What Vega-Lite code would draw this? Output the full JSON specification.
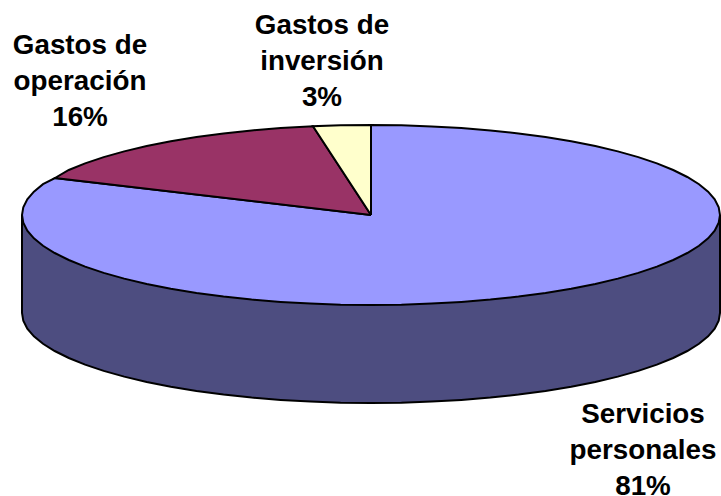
{"$schema":"https://vega.github.io/schema/vega-lite/v6.json","width":721,"height":496,"autosize":{"type":"none"},"padding":0,"background":"white","config":{"view":{"stroke":null}},
"data":{"values":[
{"p":"wall","i":0,"x":349,"y":0},{"p":"wall","i":1,"x":349,"y":-98},{"p":"wall","i":2,"x":347.7,"y":-105.8},{"p":"wall","i":3,"x":343.7,"y":-113.6},{"p":"wall","i":4,"x":337.1,"y":-121.3},{"p":"wall","i":5,"x":328,"y":-128.8},{"p":"wall","i":6,"x":316.3,"y":-136},{"p":"wall","i":7,"x":302.2,"y":-143},{"p":"wall","i":8,"x":285.9,"y":-149.6},{"p":"wall","i":9,"x":267.3,"y":-155.9},{"p":"wall","i":10,"x":246.8,"y":-161.6},{"p":"wall","i":11,"x":224.3,"y":-166.9},{"p":"wall","i":12,"x":200.2,"y":-171.7},{"p":"wall","i":13,"x":174.5,"y":-175.9},{"p":"wall","i":14,"x":147.5,"y":-179.6},{"p":"wall","i":15,"x":119.4,"y":-182.6},{"p":"wall","i":16,"x":90.3,"y":-184.9},{"p":"wall","i":17,"x":60.6,"y":-186.6},{"p":"wall","i":18,"x":30.4,"y":-187.7},{"p":"wall","i":19,"x":0,"y":-188},{"p":"wall","i":20,"x":-30.4,"y":-187.7},{"p":"wall","i":21,"x":-60.6,"y":-186.6},{"p":"wall","i":22,"x":-90.3,"y":-184.9},{"p":"wall","i":23,"x":-119.4,"y":-182.6},{"p":"wall","i":24,"x":-147.5,"y":-179.6},{"p":"wall","i":25,"x":-174.5,"y":-175.9},{"p":"wall","i":26,"x":-200.2,"y":-171.7},{"p":"wall","i":27,"x":-224.3,"y":-166.9},{"p":"wall","i":28,"x":-246.8,"y":-161.6},{"p":"wall","i":29,"x":-267.3,"y":-155.9},{"p":"wall","i":30,"x":-285.9,"y":-149.6},{"p":"wall","i":31,"x":-302.2,"y":-143},{"p":"wall","i":32,"x":-316.3,"y":-136},{"p":"wall","i":33,"x":-328,"y":-128.8},{"p":"wall","i":34,"x":-337.1,"y":-121.3},{"p":"wall","i":35,"x":-343.7,"y":-113.6},{"p":"wall","i":36,"x":-347.7,"y":-105.8},{"p":"wall","i":37,"x":-349,"y":-98},{"p":"wall","i":38,"x":-349,"y":0},
{"p":"Servicios personales","i":0,"x":0,"y":0},{"p":"Servicios personales","i":1,"x":0,"y":90},{"p":"Servicios personales","i":2,"x":30.4,"y":89.7},{"p":"Servicios personales","i":3,"x":60.6,"y":88.6},{"p":"Servicios personales","i":4,"x":90.3,"y":86.9},{"p":"Servicios personales","i":5,"x":119.4,"y":84.6},{"p":"Servicios personales","i":6,"x":147.5,"y":81.6},{"p":"Servicios personales","i":7,"x":174.5,"y":77.9},{"p":"Servicios personales","i":8,"x":200.2,"y":73.7},{"p":"Servicios personales","i":9,"x":224.3,"y":68.9},{"p":"Servicios personales","i":10,"x":246.8,"y":63.6},{"p":"Servicios personales","i":11,"x":267.3,"y":57.9},{"p":"Servicios personales","i":12,"x":285.9,"y":51.6},{"p":"Servicios personales","i":13,"x":302.2,"y":45},{"p":"Servicios personales","i":14,"x":316.3,"y":38},{"p":"Servicios personales","i":15,"x":328,"y":30.8},{"p":"Servicios personales","i":16,"x":337.1,"y":23.3},{"p":"Servicios personales","i":17,"x":343.7,"y":15.6},{"p":"Servicios personales","i":18,"x":347.7,"y":7.8},{"p":"Servicios personales","i":19,"x":349,"y":0},{"p":"Servicios personales","i":20,"x":347.7,"y":-7.8},{"p":"Servicios personales","i":21,"x":343.7,"y":-15.6},{"p":"Servicios personales","i":22,"x":337.1,"y":-23.3},{"p":"Servicios personales","i":23,"x":328,"y":-30.8},{"p":"Servicios personales","i":24,"x":316.3,"y":-38},{"p":"Servicios personales","i":25,"x":302.2,"y":-45},{"p":"Servicios personales","i":26,"x":285.9,"y":-51.6},{"p":"Servicios personales","i":27,"x":267.3,"y":-57.9},{"p":"Servicios personales","i":28,"x":246.8,"y":-63.6},{"p":"Servicios personales","i":29,"x":224.3,"y":-68.9},{"p":"Servicios personales","i":30,"x":200.2,"y":-73.7},{"p":"Servicios personales","i":31,"x":174.5,"y":-77.9},{"p":"Servicios personales","i":32,"x":147.5,"y":-81.6},{"p":"Servicios personales","i":33,"x":119.4,"y":-84.6},{"p":"Servicios personales","i":34,"x":90.3,"y":-86.9},{"p":"Servicios personales","i":35,"x":60.6,"y":-88.6},{"p":"Servicios personales","i":36,"x":30.4,"y":-89.7},{"p":"Servicios personales","i":37,"x":0,"y":-90},{"p":"Servicios personales","i":38,"x":-30.4,"y":-89.7},{"p":"Servicios personales","i":39,"x":-60.6,"y":-88.6},{"p":"Servicios personales","i":40,"x":-90.3,"y":-86.9},{"p":"Servicios personales","i":41,"x":-119.4,"y":-84.6},{"p":"Servicios personales","i":42,"x":-147.5,"y":-81.6},{"p":"Servicios personales","i":43,"x":-174.5,"y":-77.9},{"p":"Servicios personales","i":44,"x":-200.2,"y":-73.7},{"p":"Servicios personales","i":45,"x":-224.3,"y":-68.9},{"p":"Servicios personales","i":46,"x":-246.8,"y":-63.6},{"p":"Servicios personales","i":47,"x":-267.3,"y":-57.9},{"p":"Servicios personales","i":48,"x":-285.9,"y":-51.6},{"p":"Servicios personales","i":49,"x":-302.2,"y":-45},{"p":"Servicios personales","i":50,"x":-316.3,"y":-38},{"p":"Servicios personales","i":51,"x":-328,"y":-30.8},{"p":"Servicios personales","i":52,"x":-337.1,"y":-23.3},{"p":"Servicios personales","i":53,"x":-343.7,"y":-15.6},{"p":"Servicios personales","i":54,"x":-347.7,"y":-7.8},{"p":"Servicios personales","i":55,"x":-349,"y":0},{"p":"Servicios personales","i":56,"x":-347.7,"y":7.8},{"p":"Servicios personales","i":57,"x":-343.7,"y":15.6},{"p":"Servicios personales","i":58,"x":-337.1,"y":23.3},{"p":"Servicios personales","i":59,"x":-328,"y":30.8},{"p":"Servicios personales","i":60,"x":-316,"y":37},{"p":"Servicios personales","i":61,"x":0,"y":0},
{"p":"Gastos de operación","i":0,"x":0,"y":0},{"p":"Gastos de operación","i":1,"x":-316,"y":37},{"p":"Gastos de operación","i":2,"x":-302.2,"y":45},{"p":"Gastos de operación","i":3,"x":-285.9,"y":51.6},{"p":"Gastos de operación","i":4,"x":-267.3,"y":57.9},{"p":"Gastos de operación","i":5,"x":-246.8,"y":63.6},{"p":"Gastos de operación","i":6,"x":-224.3,"y":68.9},{"p":"Gastos de operación","i":7,"x":-200.2,"y":73.7},{"p":"Gastos de operación","i":8,"x":-174.5,"y":77.9},{"p":"Gastos de operación","i":9,"x":-147.5,"y":81.6},{"p":"Gastos de operación","i":10,"x":-119.4,"y":84.6},{"p":"Gastos de operación","i":11,"x":-90.3,"y":86.9},{"p":"Gastos de operación","i":12,"x":-58,"y":88.7},{"p":"Gastos de operación","i":13,"x":0,"y":0},
{"p":"Gastos de inversión","i":0,"x":0,"y":0},{"p":"Gastos de inversión","i":1,"x":-58,"y":88.7},{"p":"Gastos de inversión","i":2,"x":-30.4,"y":89.7},{"p":"Gastos de inversión","i":3,"x":0,"y":90},{"p":"Gastos de inversión","i":4,"x":0,"y":0},
{"p":"label","i":0,"x":-291,"y":183,"t":"Gastos de\noperación\n16%"},{"p":"label","i":1,"x":-49,"y":203,"t":"Gastos de\ninversión\n3%"},{"p":"label","i":2,"x":272,"y":-186,"t":"Servicios\npersonales\n81%"}
]},
"encoding":{"x":{"field":"x","type":"quantitative","axis":null,"scale":{"domain":[-371,350],"nice":false,"zero":false}},"y":{"field":"y","type":"quantitative","axis":null,"scale":{"domain":[-281,215],"nice":false,"zero":false}},"order":{"field":"i","type":"quantitative"}},
"layer":[
{"transform":[{"filter":"datum.p==='wall'"}],"mark":{"type":"line","fill":"#4d4d80","stroke":"black","strokeWidth":2}},
{"transform":[{"filter":"datum.p==='Servicios personales'"}],"mark":{"type":"line","fill":"#9999ff","stroke":"black","strokeWidth":2}},
{"transform":[{"filter":"datum.p==='Gastos de operación'"}],"mark":{"type":"line","fill":"#993366","stroke":"black","strokeWidth":2}},
{"transform":[{"filter":"datum.p==='Gastos de inversión'"}],"mark":{"type":"line","fill":"#ffffcc","stroke":"black","strokeWidth":2}},
{"transform":[{"filter":"datum.p==='label'"}],"mark":{"type":"text","font":"Liberation Sans","fontWeight":"bold","fontSize":27.8,"lineHeight":36,"lineBreak":"\n","align":"center","baseline":"top","color":"black"},"encoding":{"text":{"field":"t"}}}
]}
